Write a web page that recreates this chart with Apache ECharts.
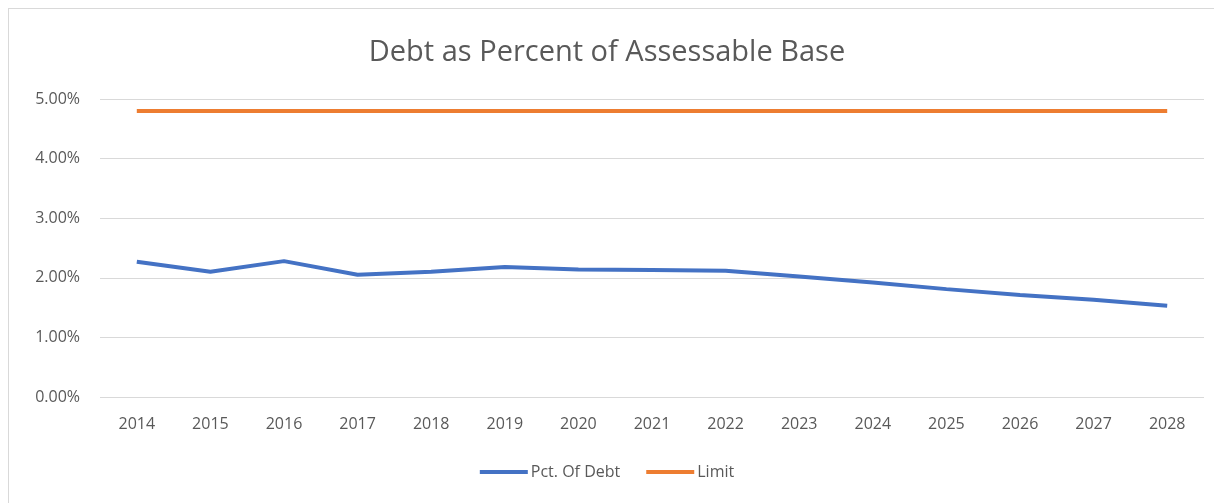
<!DOCTYPE html>
<html>
<head>
<meta charset="utf-8">
<script src="https://cdn.jsdelivr.net/npm/echarts@6/dist/echarts.min.js"></script>
<style>
  html, body { margin: 0; padding: 0; background: #fff; }
  #frame { position: absolute; left: 8px; top: 8px; width: 1220px; height: 500px; border: 1px solid #d9d9d9; box-sizing: border-box; }
  #chart { position: absolute; left: 0; top: 0; width: 1214px; height: 503px; }
</style>
</head>
<body>
<div id="frame"></div>
<div id="chart"></div>
<script>
const years = ['2014','2015','2016','2017','2018','2019','2020','2021','2022','2023','2024','2025','2026','2027','2028'];
const pctOfDebt = [2.27, 2.10, 2.28, 2.05, 2.10, 2.18, 2.14, 2.13, 2.12, 2.02, 1.92, 1.81, 1.71, 1.63, 1.53];
const limit = [4.80, 4.80, 4.80, 4.80, 4.80, 4.80, 4.80, 4.80, 4.80, 4.80, 4.80, 4.80, 4.80, 4.80, 4.80];
const yTicks = { min: 0, max: 5, interval: 1 };

const font = '"Open Sans", "Noto Sans", sans-serif';
const chart = echarts.init(document.getElementById('chart'), null, { renderer: 'canvas' });
chart.setOption({
  animation: false,
  title: {
    text: 'Debt as Percent of Assessable Base',
    left: 'center',
    top: 33,
    textStyle: { fontFamily: font, fontSize: 29, fontWeight: 'normal', color: '#595959' }
  },
  grid: { left: 100, right: 10, top: 99, bottom: 106 },
  legend: {
    bottom: 18,
    left: 'center',
    itemWidth: 48,
    itemHeight: 4,
    itemGap: 26,
    textStyle: { fontFamily: font, fontSize: 16, color: '#595959', padding: [0, 0, 0, -2] },
    data: [
      { name: 'Pct. Of Debt', icon: 'rect' },
      { name: 'Limit', icon: 'rect' }
    ]
  },
  xAxis: {
    type: 'category',
    data: years,
    boundaryGap: true,
    axisLine: { show: false },
    axisTick: { show: false },
    axisLabel: { fontFamily: font, fontSize: 16, color: '#595959', margin: 19 }
  },
  yAxis: {
    type: 'value',
    min: yTicks.min,
    max: yTicks.max,
    interval: yTicks.interval,
    axisLine: { show: false },
    axisTick: { show: false },
    splitLine: { lineStyle: { color: '#d9d9d9', width: 1 } },
    axisLabel: {
      fontFamily: font, fontSize: 16, color: '#595959', margin: 20,
      formatter: v => v.toFixed(2) + '%'
    }
  },
  series: [
    {
      name: 'Pct. Of Debt',
      type: 'line',
      data: pctOfDebt,
      symbol: 'none',
      lineStyle: { color: '#4472c4', width: 4 },
      itemStyle: { color: '#4472c4' }
    },
    {
      name: 'Limit',
      type: 'line',
      data: limit,
      symbol: 'none',
      lineStyle: { color: '#ed7d31', width: 4 },
      itemStyle: { color: '#ed7d31' }
    }
  ]
});
</script>
</body>
</html>
